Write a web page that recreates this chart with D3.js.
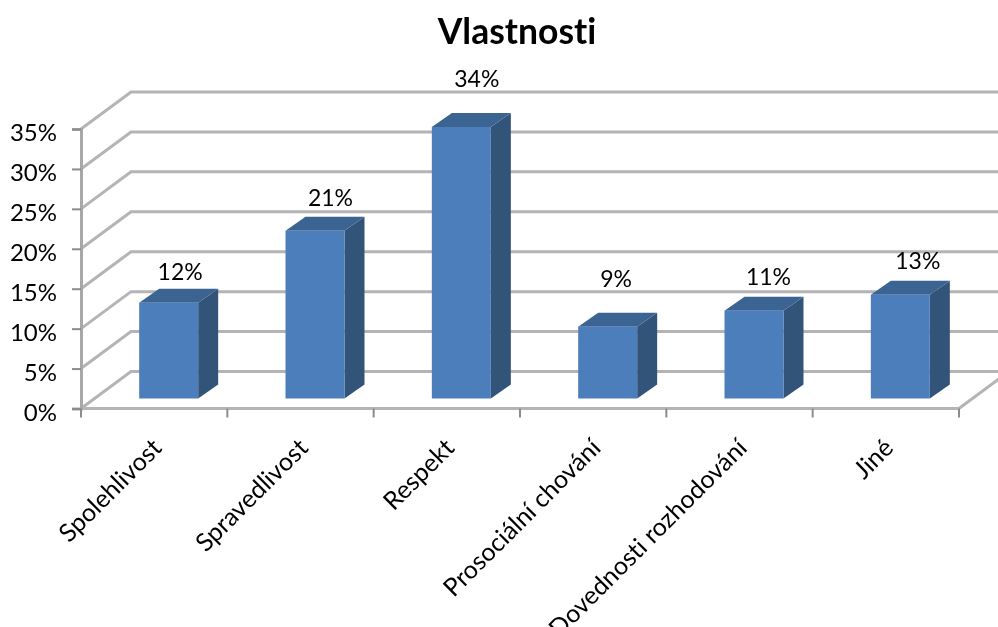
<!DOCTYPE html>
<html>
<head>
<meta charset="utf-8">
<script src="https://cdn.jsdelivr.net/npm/d3@7"></script>
<style>
  html, body { margin: 0; padding: 0; background: #fff; }
  svg { filter: blur(0.5px); }
  text { font-family: Lato, "Open Sans", sans-serif; fill: #000; font-variant-ligatures: none; }
</style>
</head>
<body>
<div id="chart"></div>
<script>
var chartTitle = "Vlastnosti";
var categories = ["Spolehlivost", "Spravedlivost", "Respekt", "Prosociální chování", "Dovednosti rozhodování", "Jiné"];
var values = [12, 21, 34, 9, 11, 13];
var yTicks = [0, 5, 10, 15, 20, 25, 30, 35];

var width = 998, height = 627;

// front plane of the 3d box
var x0 = 81, x1 = 959, yBase = 408.5, yTop = 129;
// wall depth (back plane is shifted by this)
var wallDx = 50, wallDy = -37;
// bar depth and offset from the front plane
var barDx = 20, barDy = -14;
var barOffsetX = 14.5, barOffsetY = -10;

// the value labels were placed by hand in the original, so nudge them per bar
var labelNudgeX = [0, 4, 4, -3, 3, 6];
var labelNudgeY = [2, 4, 19, 19, 5, 5];

var svg = d3.select("#chart").append("svg")
    .attr("width", width)
    .attr("height", height)
    .style("display", "block");

var xScale = d3.scaleBand().domain(categories).range([x0, x1]);
var yScale = d3.scaleLinear().domain([0, 35]).range([yBase, yTop]);
var barWidth = 59;

var gridColor = "#b4b4b4";

// back wall, side wall and floor lines
var grid = svg.append("g").attr("class", "grid")
    .attr("fill", "none")
    .attr("stroke", gridColor)
    .attr("stroke-width", 3);

grid.selectAll("path")
    .data(yTicks)
    .enter().append("path")
    .attr("d", function (d) {
        var y = yScale(d);
        return "M" + x0 + "," + y + "L" + (x0 + wallDx) + "," + (y + wallDy) + "H" + width;
    });

// front floor edge and right side of the floor
svg.append("path")
    .attr("d", "M" + x0 + "," + yBase + "H" + x1 + "L" + (x1 + wallDx) + "," + (yBase + wallDy))
    .attr("fill", "none")
    .attr("stroke", gridColor)
    .attr("stroke-width", 3);

// left axis
var yAxis = d3.axisLeft(yScale)
    .tickValues(yTicks)
    .tickFormat(function (d) { return d + "%"; })
    .tickSize(9)
    .tickPadding(15);

var yG = svg.append("g")
    .attr("transform", "translate(" + x0 + ",0)")
    .call(yAxis);
yG.select(".domain").attr("stroke", "#a8a8a8").attr("stroke-width", 3);
yG.selectAll(".tick line").attr("stroke", "#8c8c8c").attr("stroke-width", 2);
yG.selectAll(".tick text").style("font-size", "24px").attr("y", 3).attr("dy", "0.36em");

// bottom ticks
var edges = categories.map(function (c) { return xScale(c); }).concat([x1]);
svg.append("g").selectAll("line")
    .data(edges)
    .enter().append("line")
    .attr("x1", function (d) { return d; })
    .attr("x2", function (d) { return d; })
    .attr("y1", yBase)
    .attr("y2", yBase + 9)
    .attr("stroke", "#8c8c8c")
    .attr("stroke-width", 2);

// category labels
svg.append("g").selectAll("text")
    .data(categories)
    .enter().append("text")
    .attr("text-anchor", "end")
    .attr("transform", function (d) {
        return "translate(" + (xScale(d) + xScale.bandwidth() / 2 + 9) + "," + (yBase + 41) + ") rotate(-45)";
    })
    .style("font-size", "25px")
    .text(function (d) { return d; });

// bars
var bars = svg.append("g").selectAll("g")
    .data(values)
    .enter().append("g")
    .attr("transform", function (d, i) {
        return "translate(" + (xScale(categories[i]) + (xScale.bandwidth() - barWidth) / 2 + barOffsetX) + "," + barOffsetY + ")";
    });

// right side
bars.append("path")
    .attr("fill", "#325479")
    .attr("d", function (d) {
        var top = yScale(d), base = yBase;
        return "M" + barWidth + "," + top + "l" + barDx + "," + barDy + "V" + (base + barDy) + "l" + (-barDx) + "," + (-barDy) + "Z";
    });

// top
bars.append("path")
    .attr("fill", "#3c6493")
    .attr("d", function (d) {
        var top = yScale(d);
        return "M0," + top + "l" + barDx + "," + barDy + "h" + barWidth + "l" + (-barDx) + "," + (-barDy) + "Z";
    });

// front
bars.append("rect")
    .attr("x", 0)
    .attr("y", function (d) { return yScale(d); })
    .attr("width", barWidth)
    .attr("height", function (d) { return yBase - yScale(d); })
    .attr("fill", "#4d7ebc");

// value labels
svg.append("g").selectAll("text")
    .data(values)
    .enter().append("text")
    .attr("text-anchor", "middle")
    .attr("x", function (d, i) { return xScale(categories[i]) + xScale.bandwidth() / 2 + 26 + labelNudgeX[i]; })
    .attr("y", function (d, i) { return yScale(d) + barOffsetY - 21 - labelNudgeY[i]; })
    .style("font-size", "23px")
    .text(function (d) { return d + "%"; });

// title
svg.append("text")
    .attr("x", 517)
    .attr("y", 44)
    .attr("text-anchor", "middle")
    .style("font-size", "35.5px")
    .style("font-weight", "bold")
    .text(chartTitle);
</script>
</body>
</html>
